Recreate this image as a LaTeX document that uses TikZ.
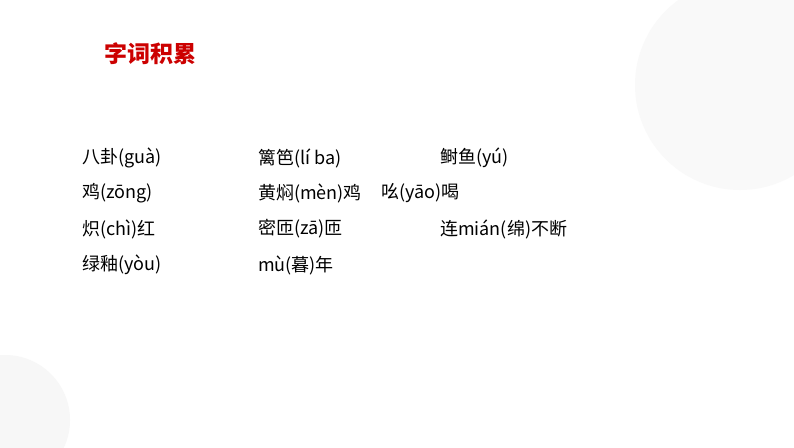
\documentclass[tikz,border=0pt]{standalone}
\usepackage{fontspec}
\setmainfont{Noto Sans CJK SC}
\tikzset{t/.style={anchor=west,inner sep=0pt,font=\fontsize{18}{19}\selectfont}}
\begin{document}
\begin{tikzpicture}[x=1pt,y=-1pt]
\useasboundingbox (0,0) rectangle (794,447);
\fill[white] (0,0) rectangle (794,447);
\begin{scope}
\clip (0,0) rectangle (794,447);
\fill[gray!5] (740,85) circle (105);
\fill[gray!6] (5,420) circle (65);
\end{scope}
\node[anchor=west,inner sep=0pt,text=red!80!black,font=\fontsize{23}{24}\selectfont\bfseries] (title) at (104,54) {字词积累};
\node[t] (a1) at (82,158) {八卦(guà)};
\node[t] (a2) at (82,193) {鸡(zōng)};
\node[t] (a3) at (82,229) {炽(chì)红};
\node[t] (a4) at (82,265) {绿釉(yòu)};
\node[t] (b1) at (258,158) {篱笆(lí ba)};
\node[t] (b2) at (258,193) {黄焖(mèn)鸡};
\node[t] (c2) at (381,193) {吆(yāo)喝};
\node[t] (b3) at (258,229) {密匝(zā)匝};
\node[t] (b4) at (258,265) {mù(暮)年};
\node[t] (c1) at (440,158) {鲥鱼(yú)};
\node[t] (c3) at (440,229) {连mián(绵)不断};
\end{tikzpicture}
\end{document}
